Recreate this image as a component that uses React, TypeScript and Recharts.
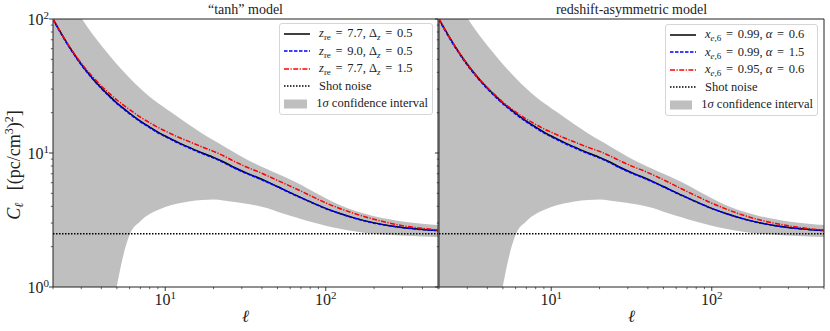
import React from 'react';
import { ComposedChart, Area, Line, XAxis, YAxis, ReferenceLine, ReferenceArea, Legend } from 'recharts';

const serif = '"Liberation Serif", "DejaVu Serif", serif';
const ink = '#222';

// multipole values shared by every curve
const ell = [2, 2.5, 3, 3.5, 4, 4.5, 5, 5.5, 6, 7, 8, 9, 10, 12, 14, 17, 20, 23, 27, 32, 37, 43, 50, 60, 70, 85, 100, 120, 150, 200, 250, 300, 400, 500];

// 1 sigma band around the fiducial spectrum
const bandLow = [0.02, 0.03, 0.06, 0.12, 0.25, 0.5, 1.02, 1.75, 2.45, 3.1, 3.5, 3.75, 3.95, 4.2, 4.35, 4.45, 4.5, 4.42, 4.3, 4.18, 4.05, 3.88, 3.65, 3.4, 3.22, 3.02, 2.87, 2.73, 2.61, 2.5, 2.45, 2.42, 2.38, 2.36];
const bandHigh = [225, 144, 102, 78, 63.5, 53.5, 46, 40.5, 36.3, 30.3, 26.3, 23.6, 21.6, 18.6, 16.3, 14.0, 12.45, 11.3, 10.1, 9.0, 8.25, 7.6, 7.0, 6.35, 5.8, 5.1, 4.6, 4.12, 3.72, 3.38, 3.2, 3.08, 2.97, 2.9];

// "tanh" model
const tanhFid = [100, 63.3, 46.0, 36.5, 30.6, 26.6, 23.6, 21.5, 19.8, 17.3, 15.6, 14.3, 13.4, 12.0, 11.06, 10.0, 9.27, 8.6, 7.79, 7.1, 6.62, 6.12, 5.62, 5.06, 4.65, 4.19, 3.86, 3.57, 3.28, 3.01, 2.87, 2.78, 2.69, 2.64];
const tanhZ90 = [99, 62.7, 45.5, 36.1, 30.3, 26.3, 23.35, 21.3, 19.6, 17.1, 15.45, 14.15, 13.27, 11.88, 10.95, 9.9, 9.18, 8.51, 7.71, 7.03, 6.55, 6.06, 5.59, 5.03, 4.63, 4.17, 3.84, 3.555, 3.265, 2.995, 2.86, 2.77, 2.683, 2.635];
const tanhDz15 = [100, 63.8, 46.8, 37.45, 31.67, 27.77, 24.85, 22.75, 21.07, 18.53, 16.85, 15.53, 14.6, 13.16, 12.2, 11.09, 10.28, 9.54, 8.64, 7.87, 7.34, 6.78, 6.25, 5.66, 5.2, 4.64, 4.24, 3.89, 3.54, 3.2, 3.0, 2.87, 2.74, 2.66];

// redshift-asymmetric model
const asymFid = [100, 63.3, 46.0, 36.5, 30.6, 26.6, 23.6, 21.5, 19.8, 17.3, 15.6, 14.3, 13.4, 12.0, 11.06, 10.0, 9.27, 8.6, 7.79, 7.1, 6.62, 6.12, 5.62, 5.06, 4.65, 4.19, 3.86, 3.57, 3.28, 3.01, 2.87, 2.78, 2.69, 2.64];
const asymA15 = [98.5, 62.4, 45.3, 35.95, 30.15, 26.2, 23.25, 21.2, 19.52, 17.06, 15.39, 14.11, 13.23, 11.85, 10.93, 9.89, 9.17, 8.51, 7.71, 7.03, 6.56, 6.07, 5.58, 5.03, 4.63, 4.17, 3.845, 3.56, 3.27, 3.005, 2.865, 2.776, 2.687, 2.638];
const asymX95 = [100, 63.3, 46.0, 36.62, 30.81, 26.88, 23.93, 21.87, 20.25, 17.9, 16.34, 15.13, 14.3, 12.99, 12.07, 11.01, 10.28, 9.57, 8.7, 7.95, 7.43, 6.87, 6.31, 5.66, 5.17, 4.62, 4.22, 3.86, 3.5, 3.16, 2.98, 2.86, 2.73, 2.66];

const shotNoise = 2.5;

const xTicks = [2, 3, 4, 5, 6, 7, 8, 9, 10, 20, 30, 40, 50, 60, 70, 80, 90, 100, 200, 300, 400, 500];
const xMajor = [10, 100];
const yTicks = [1, 2, 3, 4, 5, 6, 7, 8, 9, 10, 20, 30, 40, 50, 60, 70, 80, 90, 100];
const yMajor = [1, 10, 100];

function buildRows(fid: number[], alt1: number[], alt2: number[]) {
  return ell.map((l, i) => ({
    ell: l,
    band: [bandLow[i], bandHigh[i]],
    fid: fid[i],
    alt1: alt1[i],
    alt2: alt2[i],
  }));
}

function XTick(props: any) {
  const { x, y, payload } = props;
  const v = payload.value;
  const major = xMajor.includes(v);
  return (
    <g>
      <line x1={x} x2={x} y1={y} y2={y + (major ? 4 : 2.2)} stroke={ink} strokeWidth={major ? 0.9 : 0.7} />
      {major && (
        <text x={x} y={y + 18} textAnchor="middle" fontFamily={serif} fontSize={16} fill={ink}>
          10<tspan dy={-6} fontSize={11}>{Math.round(Math.log10(v))}</tspan>
        </text>
      )}
    </g>
  );
}

function YTick(props: any) {
  const { x, y, payload, labels } = props;
  const v = payload.value;
  const major = yMajor.includes(v);
  return (
    <g>
      <line x1={x - (major ? 4 : 2.2)} x2={x} y1={y} y2={y} stroke={ink} strokeWidth={major ? 0.9 : 0.7} />
      {major && labels && (
        <text x={x - 4} y={y + 6} textAnchor="end" fontFamily={serif} fontSize={16} fill={ink}>
          10<tspan dy={-6} fontSize={11}>{Math.round(Math.log10(v))}</tspan>
        </text>
      )}
    </g>
  );
}

const Sub = ({ children }: { children: React.ReactNode }) => (
  <span style={{ fontSize: 9, position: 'relative', top: 3 }}>{children}</span>
);

const Eq = () => <span style={{ padding: '0 1.5px' }}>=</span>;

function Sample({ kind }: { kind: string }) {
  return (
    <svg width={26} height={12} style={{ display: 'block' }}>
      {kind === 'band' ? (
        <rect x={0} y={1.5} width={25} height={9} fill="#bfbfbf" />
      ) : kind === 'solid' ? (
        <line x1={0} x2={26} y1={6} y2={6} stroke="#000" strokeWidth={1.5} />
      ) : kind === 'dash' ? (
        <line x1={0} x2={26} y1={6} y2={6} stroke="#0000ff" strokeWidth={1.5} strokeDasharray="3.5 1.5" />
      ) : kind === 'dashdot' ? (
        <line x1={0} x2={26} y1={6} y2={6} stroke="#ff0000" strokeWidth={1.5} strokeDasharray="5 1.5 1.2 1.5" />
      ) : (
        <line x1={0} x2={26} y1={6} y2={6} stroke="#000" strokeWidth={1.5} strokeDasharray="1.5 1.5" />
      )}
    </svg>
  );
}

const tanhLegend = [
  { kind: 'solid', label: <><i>z</i><Sub>re</Sub> <Eq /> 7.7, Δ<Sub><i>z</i></Sub> <Eq /> 0.5</> },
  { kind: 'dash', label: <><i>z</i><Sub>re</Sub> <Eq /> 9.0, Δ<Sub><i>z</i></Sub> <Eq /> 0.5</> },
  { kind: 'dashdot', label: <><i>z</i><Sub>re</Sub> <Eq /> 7.7, Δ<Sub><i>z</i></Sub> <Eq /> 1.5</> },
  { kind: 'dot', label: <>Shot noise</> },
  { kind: 'band', label: <>1<i>σ</i> confidence interval</> },
];

const asymLegend = [
  { kind: 'solid', label: <><i>x</i><Sub><i>e</i>,6</Sub> <Eq /> 0.99, <i>α</i> <Eq /> 0.6</> },
  { kind: 'dash', label: <><i>x</i><Sub><i>e</i>,6</Sub> <Eq /> 0.99, <i>α</i> <Eq /> 1.5</> },
  { kind: 'dashdot', label: <><i>x</i><Sub><i>e</i>,6</Sub> <Eq /> 0.95, <i>α</i> <Eq /> 0.6</> },
  { kind: 'dot', label: <>Shot noise</> },
  { kind: 'band', label: <>1<i>σ</i> confidence interval</> },
];

function LegendBox({ items }: { items: { kind: string; label: React.ReactNode }[] }) {
  return (
    <div
      style={{
        border: '1px solid #d6d6d6',
        borderRadius: 3,
        background: 'rgba(255,255,255,0.85)',
        padding: '1px 4px 1px 4px',
        fontFamily: serif,
        fontSize: 12.5,
        color: ink,
        boxSizing: 'border-box',
      }}
    >
      {items.map((it, i) => (
        <div key={i} style={{ display: 'flex', alignItems: 'center', height: 17.5, whiteSpace: 'nowrap' }}>
          <Sample kind={it.kind} />
          <span style={{ marginLeft: 9 }}>{it.label}</span>
        </div>
      ))}
    </div>
  );
}

function Panel(props: any) {
  const { rows, legendItems, left, width, margin, yLabels, legendPos } = props;
  return (
    <div style={{ position: 'absolute', left, top: 0 }}>
      <ComposedChart width={width} height={331} data={rows} margin={margin}>
        <XAxis
          dataKey="ell"
          type="number"
          scale="log"
          domain={[2, 500]}
          ticks={xTicks}
          interval={0}
          allowDataOverflow
          axisLine={false}
          tickLine={false}
          tickSize={0}
          tickMargin={0}
          height={30}
          tick={(p: any) => <XTick {...p} />}
          label={{
            content: (p: any) => (
              <text
                x={p.viewBox.x + p.viewBox.width / 2}
                y={p.viewBox.y + 35}
                textAnchor="middle"
                fontFamily={serif}
                fontStyle="italic"
                fontSize={17}
                fill={ink}
              >
                ℓ
              </text>
            ),
          }}
        />
        <YAxis
          type="number"
          scale="log"
          domain={[1, 100]}
          ticks={yTicks}
          interval={0}
          allowDataOverflow
          axisLine={false}
          tickLine={false}
          tickSize={0}
          tickMargin={0}
          width={30}
          tick={(p: any) => <YTick {...p} labels={yLabels} />}
          label={
            yLabels
              ? {
                  content: (p: any) => {
                    const cx = p.viewBox.x - 3;
                    const cy = p.viewBox.y + p.viewBox.height / 2 + 12;
                    return (
                      <text
                        x={cx}
                        y={cy}
                        transform={`rotate(-90, ${cx}, ${cy})`}
                        textAnchor="middle"
                        fontFamily={serif}
                        fontSize={18}
                        fill={ink}
                      >
                        <tspan fontStyle="italic">C</tspan>
                        <tspan fontStyle="italic" fontSize={12} dy={3}>ℓ</tspan>
                        <tspan dy={-3}>{'\u2002\u2009[(pc/cm'}</tspan>
                        <tspan fontSize={12} dy={-7}>3</tspan>
                        <tspan dy={7}>)</tspan>
                        <tspan fontSize={12} dy={-7}>2</tspan>
                        <tspan dy={7}>]</tspan>
                      </text>
                    );
                  },
                }
              : undefined
          }
        />
        <Area dataKey="band" type="monotone" fill="#bfbfbf" fillOpacity={1} stroke="none" isAnimationActive={false} />
        <ReferenceLine y={shotNoise} stroke="#000" strokeWidth={1.5} strokeDasharray="1.5 1.5" />
        <Line dataKey="fid" type="monotone" stroke="#000" strokeWidth={1.5} dot={false} isAnimationActive={false} />
        <Line dataKey="alt1" type="monotone" stroke="#0000ff" strokeWidth={1.5} strokeDasharray="3.5 1.5" dot={false} isAnimationActive={false} />
        <Line dataKey="alt2" type="monotone" stroke="#ff0000" strokeWidth={1.5} strokeDasharray="5 1.5 1.2 1.5" dot={false} isAnimationActive={false} />
        <ReferenceArea x1={2} x2={500} y1={1} y2={100} fill="none" stroke={ink} strokeWidth={1} />
        <Legend
          layout="vertical"
          align="center"
          verticalAlign="middle"
          wrapperStyle={{ left: legendPos.left, top: legendPos.top, width: legendPos.width }}
          content={() => <LegendBox items={legendItems} />}
        />
      </ComposedChart>
    </div>
  );
}

const titleStyle: React.CSSProperties = {
  position: 'absolute',
  top: 2,
  fontFamily: serif,
  fontSize: 14,
  lineHeight: '16px',
  textAlign: 'center',
  color: ink,
  width: 385,
};

export default function App() {
  const tanhRows = buildRows(tanhFid, tanhZ90, tanhDz15);
  const asymRows = buildRows(asymFid, asymA15, asymX95);
  return (
    <div style={{ position: 'absolute', left: 0, top: 0, width: 830, height: 331, background: '#fff', overflow: 'hidden' }}>
      <Panel
        rows={tanhRows}
        legendItems={tanhLegend}
        left={0}
        width={440}
        margin={{ top: 19, right: 2, bottom: 14, left: 23 }}
        yLabels
        legendPos={{ left: 279, top: 23, width: 154 }}
      />
      <Panel
        rows={asymRows}
        legendItems={asymLegend}
        left={400}
        width={430}
        margin={{ top: 19, right: 6, bottom: 14, left: 9 }}
        yLabels={false}
        legendPos={{ left: 265, top: 24, width: 153 }}
      />
      <div style={{ ...titleStyle, left: 53 }}>“tanh” model</div>
      <div style={{ ...titleStyle, left: 439 }}>redshift-asymmetric model</div>
    </div>
  );
}
